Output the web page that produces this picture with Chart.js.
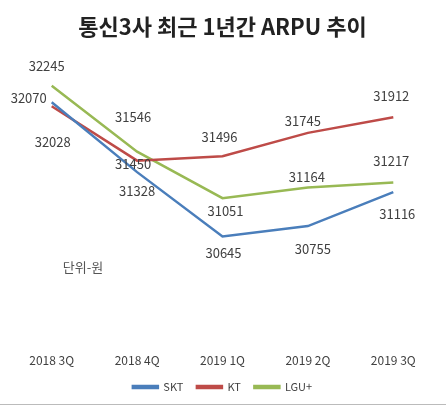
<!DOCTYPE html>
<html>
<head>
<meta charset="utf-8">
<script src="https://cdn.jsdelivr.net/npm/chart.js@4"></script>
<style>
  html, body { margin: 0; padding: 0; background: #fff; }
  #wrap { width: 446px; height: 406px; }
</style>
</head>
<body>
<div id="wrap"><canvas id="arpuChart" width="446" height="406"></canvas></div>
<script>
// 분기 / 통신사별 ARPU (원)
const quarters = ['2018 3Q', '2018 4Q', '2019 1Q', '2019 2Q', '2019 3Q'];
const skt = [32070, 31328, 30645, 30755, 31116];
const kt = [32028, 31450, 31496, 31745, 31912];
const lgu = [32245, 31546, 31051, 31164, 31217];

// label offsets from each point (px), hand placed like the original
const labelOffsets = {
    SKT: [[-23, -4], [0, 19], [1, 17], [5, 23], [4, 22]],
    KT: [[1, 36], [-4, 3], [-3, -19], [-5, -12], [-2, -21]],
    'LGU+': [[-5, -20], [-4, -35], [3, 13], [-1, -11], [-2, -22]]
};

Chart.defaults.font.family = "'Noto Sans CJK KR', 'Noto Sans', sans-serif";
Chart.defaults.color = '#404040';

const valueLabels = {
    id: 'valueLabels',
    afterDatasetsDraw(chart) {
        const ctx = chart.ctx;
        ctx.save();
        ctx.font = "13px 'Noto Sans CJK KR', 'Noto Sans', sans-serif";
        ctx.fillStyle = '#404040';
        ctx.textAlign = 'center';
        ctx.textBaseline = 'middle';
        chart.data.datasets.forEach((ds, i) => {
            const meta = chart.getDatasetMeta(i);
            meta.data.forEach((pt, j) => {
                const off = labelOffsets[ds.label][j];
                ctx.fillText(ds.data[j], pt.x + off[0], pt.y + off[1]);
            });
        });
        // unit note
        ctx.font = "13px 'Noto Sans CJK KR', sans-serif";
        ctx.fillStyle = '#555';
        ctx.fillText('단위-원', 83, 267);
        // bottom frame line
        ctx.strokeStyle = '#bbb';
        ctx.lineWidth = 1;
        ctx.beginPath();
        ctx.moveTo(0, 404.5);
        ctx.lineTo(chart.width, 404.5);
        ctx.stroke();
        ctx.restore();
    }
};

new Chart(document.getElementById('arpuChart').getContext('2d'), {
    type: 'line',
    data: {
        labels: quarters,
        datasets: [
            { label: 'SKT', data: skt, borderColor: '#4a7ebb', backgroundColor: '#4a7ebb' },
            { label: 'KT', data: kt, borderColor: '#be4b48', backgroundColor: '#be4b48' },
            { label: 'LGU+', data: lgu, borderColor: '#98b954', backgroundColor: '#98b954' }
        ].map(d => Object.assign(d, { borderWidth: 2.5, pointRadius: 0, tension: 0, fill: false }))
    },
    options: {
        responsive: false,
        animation: false,
        layout: { padding: { left: 9, right: 10, top: 0, bottom: 3.5 } },
        scales: {
            x: {
                offset: true,
                grid: { display: false },
                border: { display: false },
                ticks: { font: { size: 12 }, color: '#404040', padding: 0 }
            },
            y: {
                display: false,
                min: 29485,
                max: 32632
            }
        },
        plugins: {
            title: {
                display: true,
                text: '통신3사 최근 1년간 ARPU 추이',
                font: { size: 22, weight: 'bold' },
                color: '#222',
                padding: { top: 13, bottom: 10 }
            },
            legend: {
                position: 'bottom',
                labels: { boxWidth: 25, boxHeight: 2, font: { size: 11 }, color: '#404040', padding: 13.5 }
            },
            tooltip: { enabled: false }
        }
    },
    plugins: [valueLabels]
});
</script>
</body>
</html>
